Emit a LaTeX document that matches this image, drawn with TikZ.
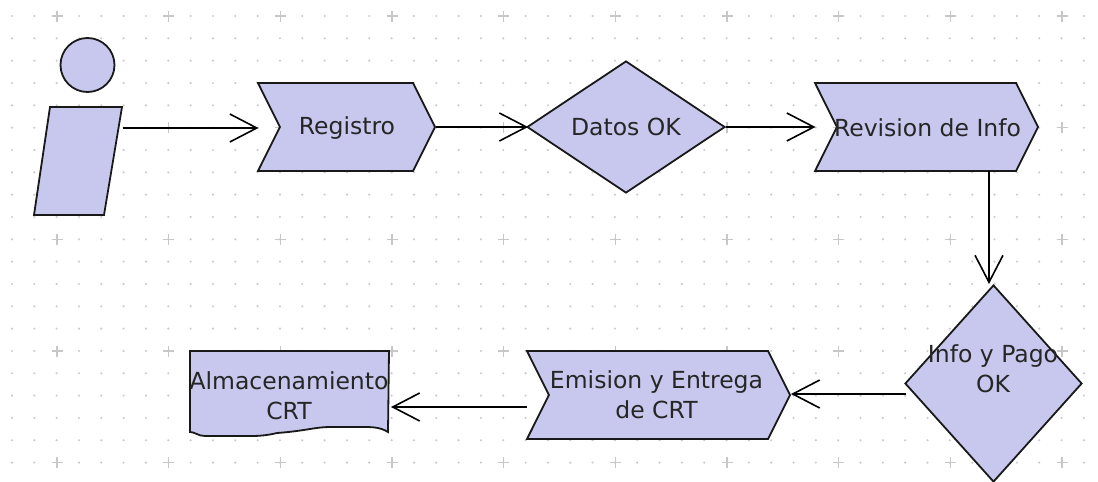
\documentclass[tikz,border=0pt]{standalone}
\usepackage{fontspec}
\setmainfont{DejaVu Sans}
\usetikzlibrary{arrows.meta,shapes.geometric,shapes.symbols}
\definecolor{shapeblue}{RGB}{200,200,238}
\tikzset{
  outline/.style = {draw = black!90, line width = 1.8pt, fill = shapeblue},
  stepbox/.style = {outline, shape = signal, signal from = west, signal to = east,
    signal pointer angle = 127, inner sep = 0pt, minimum height = 88pt, align = center},
  decision/.style = {outline, shape = diamond, inner sep = 0pt},
  caption/.style = {align = center, inner sep = 0pt, text = black!85},
  flow/.style = {black, line width = 1.6pt, shorten > = -2pt, -{Straight Barb[length = 27pt, width = 28pt]}}
}
\begin{document}
\begin{tikzpicture}[x = 1pt, y = -1pt, font = \fontsize{23.5}{30}\selectfont]
\useasboundingbox (0,0) rectangle (1098,482);
\fill[white] (0,0) rectangle (1098,482);

% dots and crosses behind everything
\foreach \i in {0,...,48}
  \foreach \j in {0,...,20}
    \fill[black!20] (12 + 22.33*\i, 16 + 22.33*\j) circle (1.2pt);
\foreach \i in {0,...,9}
  \foreach \j in {0,...,4}{
    \draw[black!22, line width = 1.4pt] (51.5 + 111.67*\i, 16 + 111.67*\j) -- (62.5 + 111.67*\i, 16 + 111.67*\j);
    \draw[black!22, line width = 1.4pt] (57 + 111.67*\i, 10.5 + 111.67*\j) -- (57 + 111.67*\i, 21.5 + 111.67*\j);
  }

% actor
\node[outline, circle, inner sep = 0pt, minimum size = 54pt] (head) at (87.5,65) {};
\draw[outline] (50,107) -- (122,107) -- (104,215) -- (34,215) -- cycle;
\coordinate (actor) at (123,128);

\node[stepbox, minimum width = 177pt] (registro) at (346.5,127) {};
\node[caption] (registrotext) at (347,128) {Registro};
\node[decision, minimum width = 198pt, minimum height = 132pt] (datos) at (626,127) {};
\node[caption] (datostext) at (626,127) {Datos OK};
\node[stepbox, minimum width = 223pt] (revision) at (926.5,127) {};
\node[caption] (revisiontext) at (927.5,128) {Revision de Info};
\node[decision, minimum width = 177pt, minimum height = 197pt] (info) at (993.5,383.5) {};
\node[caption] (infotext) at (993,369) {Info y Pago\\OK};
\node[stepbox, minimum width = 263pt] (emision) at (658.5,395) {};
\node[caption] (emisiontext) at (656.5,395) {Emision y Entrega\\de CRT};

% document shape with wavy lower edge
\draw[outline] (190,351) -- (389,351) -- (388,432) .. controls (380,427) and (372,427) .. (362,427)
  -- (330,427) .. controls (315,427) and (305,431) .. (277,433) .. controls (265,436) and (255,436) .. (250,436)
  -- (205,436) .. controls (198,436) and (195,432) .. (190,432) -- cycle;
\node[caption] (almacen) at (289,396) {Almacenamiento\\CRT};
\coordinate (almacenin) at (393,407);
\coordinate (emisionout) at (527,407);
\coordinate (infoout) at (906,394);
\coordinate (emisionin) at (793,394);
\coordinate (revisionout) at (989,171);
\coordinate (infoin) at (989,282);

\draw[flow] (actor) -- (registro.north west |- actor);
\draw[flow] (registro.east) -- (datos.west);
\draw[flow] (datos.east) -- (revision.north west |- datos.east);
\draw[flow] (revisionout) -- (infoin);
\draw[flow] (infoout) -- (emisionin);
\draw[flow] (emisionout) -- (almacenin);
\end{tikzpicture}
\end{document}
